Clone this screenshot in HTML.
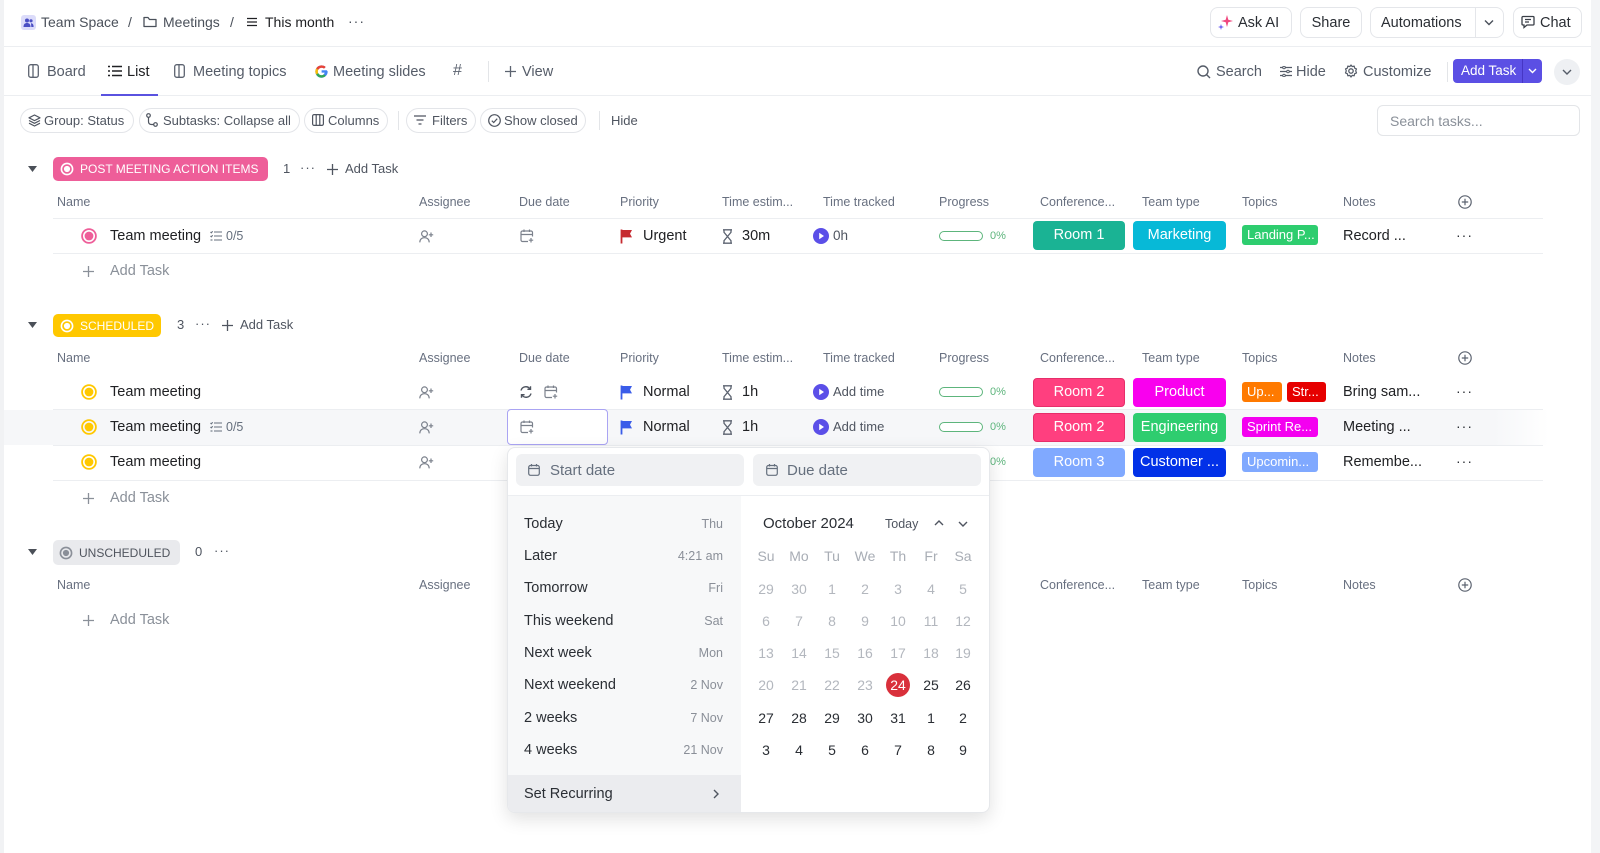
<!DOCTYPE html>
<html><head><meta charset="utf-8">
<style>
*{box-sizing:border-box;margin:0;padding:0}
body{width:1600px;height:853px;overflow:hidden;background:#fff;font-family:"Liberation Sans",Arial,sans-serif;color:#202124;position:relative}
.a{position:absolute}
.t{position:absolute;white-space:nowrap;line-height:20px;height:20px}
.h{font-size:12.5px;color:#687080}
.r{font-size:14.5px;color:#202124}
.nv{font-size:14.5px;color:#555c68}
.chip{position:absolute;border-radius:4px;color:#fff;font-size:14.5px;text-align:center;line-height:29px;height:29px;white-space:nowrap;overflow:hidden}
.tp{position:absolute;border-radius:3px;color:#fff;font-size:13px;line-height:20px;height:20px;padding-left:5px;white-space:nowrap;overflow:hidden}
.ln{position:absolute;height:1px;background:#eceef1}
.btn{position:absolute;border:1px solid #e4e6ea;border-radius:8px;background:#fff}
.fc{position:absolute;top:108px;height:25px;border:1px solid #e3e5e9;border-radius:13px}
.ft{font-size:13px;color:#4f5560}
.pb{position:absolute;width:44px;height:10px;border:1.5px solid #5db57c;border-radius:6px;background:#fff}
.pc{font-size:11px;color:#5db57c}
.li{font-size:14.5px;color:#2a2e34}
.lv{font-size:12.5px;color:#8a8f98;text-align:right;width:80px}
.cd{position:absolute;width:30px;text-align:center;font-size:14px;line-height:20px;height:20px}
.gy{color:#b3b7be}
.dk{color:#2a2e34}
</style></head><body>

<!-- frame strips -->
<div class="a" style="left:0;top:0;width:4px;height:853px;background:#f1f2f4"></div>
<div class="a" style="left:1591px;top:0;width:9px;height:853px;background:#f3f4f6"></div>
<div class="ln" style="left:4px;top:46px;width:1587px"></div>
<div class="ln" style="left:4px;top:95px;width:1587px"></div>

<!-- breadcrumb -->
<div class="a" style="left:21px;top:15px;width:15px;height:15px;border-radius:3px;background:#dcdcfa"></div>
<svg class="a" style="left:23px;top:17px" width="11" height="11" viewBox="0 0 11 11"><circle cx="4" cy="3.5" r="2" fill="#4b4fc4"/><circle cx="8" cy="3.8" r="1.6" fill="#4b4fc4"/><path d="M0.5 10c0-3 1.5-4 3.5-4s3.5 1 3.5 4z" fill="#4b4fc4"/><path d="M8 6.2c1.6 0 2.6 1 2.6 3.8H8.3" fill="#4b4fc4"/></svg>
<div class="t" style="left:41px;top:12px;font-size:14px;color:#4a505a">Team Space</div>
<div class="t" style="left:128px;top:12px;font-size:14px;color:#4a505a">/</div>
<svg class="a" style="left:143px;top:16px" width="14" height="12" viewBox="0 0 14 12"><path d="M1 2.5V10.5H13V3.5H6.5L5 1.5H1Z" fill="none" stroke="#4a505a" stroke-width="1.3" stroke-linejoin="round"/></svg>
<div class="t" style="left:163px;top:12px;font-size:14px;color:#4a505a">Meetings</div>
<div class="t" style="left:230px;top:12px;font-size:14px;color:#4a505a">/</div>
<svg class="a" style="left:247px;top:17px" width="10" height="10" viewBox="0 0 10 10"><path d="M0 1.5H10M0 5H10M0 8.5H10" stroke="#202124" stroke-width="1.3"/></svg>
<div class="t" style="left:265px;top:12px;font-size:14px;color:#202124">This month</div>
<div class="t" style="left:348px;top:11px;font-size:14px;color:#4a505a;letter-spacing:1px">···</div>

<!-- top right buttons -->
<div class="btn" style="left:1210px;top:7px;width:82px;height:31px"></div>
<svg class="a" style="left:1217px;top:14px" width="17" height="17" viewBox="0 0 17 17"><path d="M10 1L11.3 5.7 16 7 11.3 8.3 10 13 8.7 8.3 4 7 8.7 5.7Z" fill="#f0487f"/><path d="M4 10L4.7 12.3 7 13 4.7 13.7 4 16 3.3 13.7 1 13 3.3 12.3Z" fill="#6a5cf0"/></svg>
<div class="t" style="left:1238px;top:12.5px;font-size:14.5px;color:#2a2e34">Ask AI</div>
<div class="btn" style="left:1300px;top:7px;width:62px;height:31px"></div>
<div class="t" style="left:1300px;top:12.5px;width:62px;text-align:center;font-size:14.5px;color:#2a2e34">Share</div>
<div class="btn" style="left:1370px;top:7px;width:134px;height:31px"></div>
<div class="t" style="left:1381px;top:12.5px;font-size:14.5px;color:#2a2e34">Automations</div>
<div class="a" style="left:1475px;top:8px;width:1px;height:29px;background:#e4e6ea"></div>
<svg class="a" style="left:1484px;top:19px" width="10" height="7" viewBox="0 0 10 7"><path d="M1 1.5L5 5.5 9 1.5" fill="none" stroke="#4a505a" stroke-width="1.4"/></svg>
<div class="btn" style="left:1513px;top:7px;width:69px;height:31px"></div>
<svg class="a" style="left:1521px;top:15px" width="14" height="14" viewBox="0 0 14 14"><path d="M2 1.5H12a1 1 0 0 1 1 1V9a1 1 0 0 1-1 1H6L3 12.5V10H2a1 1 0 0 1-1-1V2.5a1 1 0 0 1 1-1Z" fill="none" stroke="#3a3f47" stroke-width="1.3"/><path d="M4 4.5H10M4 7H8" stroke="#3a3f47" stroke-width="1.2"/></svg>
<div class="t" style="left:1540px;top:12.5px;font-size:14.5px;color:#2a2e34">Chat</div>

<!-- tabs -->
<svg class="a" style="left:28px;top:64px" width="11" height="14" viewBox="0 0 11 14"><rect x="0.7" y="0.7" width="9.6" height="12.6" rx="2" fill="none" stroke="#5c6370" stroke-width="1.3"/><path d="M5 1V13" stroke="#5c6370" stroke-width="1.3"/></svg>
<div class="t nv" style="left:47px;top:61.5px">Board</div>
<svg class="a" style="left:108px;top:65px" width="14" height="12" viewBox="0 0 14 12"><path d="M0 1.5H2M0 6H2M0 10.5H2M4 1.5H14M4 6H14M4 10.5H14" stroke="#202124" stroke-width="1.5"/></svg>
<div class="t" style="left:127px;top:61.5px;font-size:14.5px;color:#202124">List</div>
<div class="a" style="left:101px;top:94px;width:57px;height:2px;background:#5a52e0"></div>
<svg class="a" style="left:174px;top:64px" width="11" height="14" viewBox="0 0 11 14"><rect x="0.7" y="0.7" width="9.6" height="12.6" rx="2" fill="none" stroke="#5c6370" stroke-width="1.3"/><path d="M5 1V13" stroke="#5c6370" stroke-width="1.3"/></svg>
<div class="t nv" style="left:193px;top:61.5px">Meeting topics</div>
<svg class="a" style="left:315px;top:65px" width="13" height="13" viewBox="0 0 13 13"><path d="M11.8 5.3H6.6V7.6H9.6C9.2 9.2 8 10.3 6.5 10.3A3.8 3.8 0 1 1 9 3.6L10.7 2A6.2 6.2 0 1 0 12.7 6.5Z" fill="#4285f4"/><path d="M1.2 3.4L3.2 4.9A3.8 3.8 0 0 1 9 3.6L10.7 2A6.2 6.2 0 0 0 1.2 3.4Z" fill="#ea4335"/><path d="M1.2 3.4A6.2 6.2 0 0 0 1.2 9.6L3.2 8.1A3.8 3.8 0 0 1 3.2 4.9Z" fill="#fbbc05"/><path d="M1.2 9.6A6.2 6.2 0 0 0 10.8 10.9L8.9 9.4A3.8 3.8 0 0 1 3.2 8.1Z" fill="#34a853"/></svg>
<div class="t nv" style="left:333px;top:61.5px">Meeting slides</div>
<div class="t" style="left:453px;top:61px;font-size:16px;color:#5c6370">#</div>
<div class="a" style="left:488px;top:61px;width:1px;height:21px;background:#e3e5e8"></div>
<svg class="a" style="left:505px;top:66px" width="11" height="11" viewBox="0 0 11 11"><path d="M5.5 0V11M0 5.5H11" stroke="#5c6370" stroke-width="1.3"/></svg>
<div class="t nv" style="left:522px;top:61.5px">View</div>

<svg class="a" style="left:1197px;top:65px" width="14" height="14" viewBox="0 0 14 14"><circle cx="6" cy="6" r="5" fill="none" stroke="#555c68" stroke-width="1.4"/><path d="M9.7 9.7L13 13" stroke="#555c68" stroke-width="1.4"/></svg>
<div class="t nv" style="left:1216px;top:61.5px">Search</div>
<svg class="a" style="left:1280px;top:66px" width="12" height="11" viewBox="0 0 12 11"><path d="M0 1.5H12M0 5.5H12M0 9.5H12" stroke="#555c68" stroke-width="1.2"/><circle cx="4" cy="1.5" r="1.3" fill="#fff" stroke="#555c68"/><circle cx="8" cy="5.5" r="1.3" fill="#fff" stroke="#555c68"/><circle cx="4" cy="9.5" r="1.3" fill="#fff" stroke="#555c68"/></svg>
<div class="t nv" style="left:1296px;top:61.5px">Hide</div>
<svg class="a" style="left:1344px;top:64px" width="14" height="14" viewBox="0 0 14 14"><circle cx="7" cy="7" r="2.2" fill="none" stroke="#555c68" stroke-width="1.3"/><path d="M7 1L8.2 2.6 10.2 2.1 10.6 4.1 12.5 4.9 11.7 6.8 12.5 8.9 10.6 9.8 10.2 11.8 8.2 11.4 7 13 5.8 11.4 3.8 11.8 3.4 9.8 1.5 8.9 2.3 6.8 1.5 4.9 3.4 4.1 3.8 2.1 5.8 2.6Z" fill="none" stroke="#555c68" stroke-width="1.2" stroke-linejoin="round"/></svg>
<div class="t nv" style="left:1363px;top:61.5px">Customize</div>
<div class="a" style="left:1447px;top:62px;width:1px;height:20px;background:#e3e5e8"></div>
<div class="a" style="left:1453px;top:59px;width:89px;height:24px;border-radius:4px;background:#5b4fe4"></div>
<div class="t" style="left:1461px;top:61px;font-size:13.5px;color:#fff">Add Task</div>
<div class="a" style="left:1522px;top:59px;width:1px;height:24px;background:#4636c4"></div>
<svg class="a" style="left:1528px;top:68px" width="9" height="6" viewBox="0 0 9 6"><path d="M1 1L4.5 4.5 8 1" fill="none" stroke="#fff" stroke-width="1.4"/></svg>
<div class="a" style="left:1554px;top:59px;width:26px;height:26px;border-radius:13px;background:#eef0f3"></div>
<svg class="a" style="left:1562px;top:69px" width="10" height="6" viewBox="0 0 10 6"><path d="M1 1L5 5 9 1" fill="none" stroke="#555c68" stroke-width="1.4"/></svg>

<!-- filter row -->
<div class="fc" style="left:20px;width:114px"></div>
<svg class="a" style="left:28px;top:114px" width="13" height="13" viewBox="0 0 13 13"><path d="M6.5 1L12 3.8 6.5 6.6 1 3.8Z" fill="none" stroke="#4f5560" stroke-width="1.2" stroke-linejoin="round"/><path d="M1 6.5L6.5 9.3 12 6.5M1 9.2L6.5 12 12 9.2" fill="none" stroke="#4f5560" stroke-width="1.2" stroke-linejoin="round"/></svg>
<div class="t ft" style="left:44px;top:110.5px">Group: Status</div>
<div class="fc" style="left:139px;width:161px"></div>
<svg class="a" style="left:146px;top:113px" width="12" height="14" viewBox="0 0 12 14"><circle cx="2.5" cy="2.5" r="1.8" fill="none" stroke="#4f5560" stroke-width="1.2"/><circle cx="9.5" cy="11.5" r="1.8" fill="none" stroke="#4f5560" stroke-width="1.2"/><path d="M2.5 4.3V8.5Q2.5 11.5 5.5 11.5H7.7" fill="none" stroke="#4f5560" stroke-width="1.2"/></svg>
<div class="t ft" style="left:163px;top:110.5px">Subtasks: Collapse all</div>
<div class="fc" style="left:304px;width:84px"></div>
<svg class="a" style="left:312px;top:114px" width="12" height="12" viewBox="0 0 12 12"><rect x="0.6" y="0.6" width="10.8" height="10.8" rx="1.5" fill="none" stroke="#4f5560" stroke-width="1.2"/><path d="M4.2 1V11M7.8 1V11" stroke="#4f5560" stroke-width="1.2"/></svg>
<div class="t ft" style="left:328px;top:110.5px">Columns</div>
<div class="a" style="left:398px;top:111px;width:1px;height:19px;background:#e3e5e8"></div>
<div class="fc" style="left:406px;width:70px"></div>
<svg class="a" style="left:414px;top:115px" width="12" height="10" viewBox="0 0 12 10"><path d="M0 1H12M2.5 5H9.5M4.5 9H7.5" stroke="#4f5560" stroke-width="1.3"/></svg>
<div class="t ft" style="left:432px;top:110.5px">Filters</div>
<div class="fc" style="left:480px;width:106px"></div>
<svg class="a" style="left:488px;top:114px" width="13" height="13" viewBox="0 0 13 13"><circle cx="6.5" cy="6.5" r="5.8" fill="none" stroke="#4f5560" stroke-width="1.2"/><path d="M3.8 6.7L5.7 8.5 9.2 4.7" fill="none" stroke="#4f5560" stroke-width="1.2"/></svg>
<div class="t ft" style="left:504px;top:110.5px">Show closed</div>
<div class="a" style="left:599px;top:111px;width:1px;height:19px;background:#e3e5e8"></div>
<div class="t ft" style="left:611px;top:110.5px">Hide</div>
<div class="a" style="left:1377px;top:105px;width:203px;height:31px;border:1px solid #e3e5e8;border-radius:6px"></div>
<div class="t" style="left:1390px;top:110.5px;font-size:14px;color:#8a9099">Search tasks...</div>

<!-- ================= GROUP 1 ================= -->
<svg class="a" style="left:28px;top:166px" width="9" height="6" viewBox="0 0 9 6"><path d="M0 0H9L4.5 6Z" fill="#4b5058"/></svg>
<div class="a" style="left:53px;top:157px;width:215px;height:24px;border-radius:5px;background:#ee5e99"></div>
<svg class="a" style="left:60px;top:162px" width="14" height="14" viewBox="0 0 14 14"><circle cx="7" cy="7" r="5.6" fill="none" stroke="#fff" stroke-width="1.6"/><circle cx="7" cy="7" r="3.1" fill="#fff"/></svg>
<div class="t" style="left:80px;top:159px;font-size:12px;color:#fff">POST MEETING ACTION ITEMS</div>
<div class="t" style="left:283px;top:159px;font-size:13px;color:#4f5560">1</div>
<div class="t" style="left:300px;top:158px;font-size:13px;color:#4f5560;letter-spacing:1px">···</div>
<svg class="a" style="left:327px;top:164px" width="11" height="11" viewBox="0 0 11 11"><path d="M5.5 0V11M0 5.5H11" stroke="#4f5560" stroke-width="1.3"/></svg>
<div class="t" style="left:345px;top:159px;font-size:13px;color:#4f5560">Add Task</div>

<!-- col header 1 -->
<div class="t h" style="left:57px;top:192px">Name</div>
<div class="t h" style="left:419px;top:192px">Assignee</div>
<div class="t h" style="left:519px;top:192px">Due date</div>
<div class="t h" style="left:620px;top:192px">Priority</div>
<div class="t h" style="left:722px;top:192px">Time estim...</div>
<div class="t h" style="left:823px;top:192px">Time tracked</div>
<div class="t h" style="left:939px;top:192px">Progress</div>
<div class="t h" style="left:1040px;top:192px">Conference...</div>
<div class="t h" style="left:1142px;top:192px">Team type</div>
<div class="t h" style="left:1242px;top:192px">Topics</div>
<div class="t h" style="left:1343px;top:192px">Notes</div>
<svg class="a" style="left:1458px;top:195px" width="14" height="14" viewBox="0 0 14 14"><circle cx="7" cy="7" r="6.2" fill="none" stroke="#5c6370" stroke-width="1.2"/><path d="M7 3.8V10.2M3.8 7H10.2" stroke="#5c6370" stroke-width="1.2"/></svg>
<div class="ln" style="left:53px;top:218px;width:1490px"></div>

<!-- row 1 -->
<svg class="a" style="left:81px;top:228px" width="16" height="16" viewBox="0 0 16 16"><circle cx="8" cy="8" r="6.9" fill="none" stroke="#ee5e99" stroke-width="1.8"/><circle cx="8" cy="8" r="4.4" fill="#ee5e99"/></svg>
<div class="t r" style="left:110px;top:226px">Team meeting</div>
<svg class="a" style="left:210px;top:231px" width="12" height="10" viewBox="0 0 12 10"><path d="M4 1H12M4 5H12M4 9H12M0.5 1L1.3 1.8 2.7 0.3M0.5 5L1.3 5.8 2.7 4.3" fill="none" stroke="#656f7d" stroke-width="1.1"/><path d="M0.5 9H2.5" stroke="#656f7d" stroke-width="1.1"/></svg>
<div class="t" style="left:226px;top:226px;font-size:12.5px;color:#656f7d">0/5</div>
<svg class="a" style="left:419px;top:230px" width="15" height="13" viewBox="0 0 15 13"><circle cx="5.5" cy="3.8" r="2.9" fill="none" stroke="#7b818c" stroke-width="1.2"/><path d="M0.8 12.4C0.8 9 3 7.7 5.5 7.7S10.2 9 10.2 12.4" fill="none" stroke="#7b818c" stroke-width="1.2"/><path d="M12 2.5V7M9.8 4.8H14.2" stroke="#7b818c" stroke-width="1.2"/></svg>
<svg class="a" style="left:520px;top:229px" width="14" height="14" viewBox="0 0 14 14"><path d="M8 12.5H2.5a1.5 1.5 0 0 1-1.5-1.5V3.5A1.5 1.5 0 0 1 2.5 2H11a1.5 1.5 0 0 1 1.5 1.5V7.5M1 5.5H12.5M4 0.5V3M9.5 0.5V3M11 9V13.5M8.8 11.2H13.2" fill="none" stroke="#7b818c" stroke-width="1.2"/></svg>
<svg class="a" style="left:620px;top:229px" width="13" height="15" viewBox="0 0 13 15"><path d="M1.5 0.5V14.5" stroke="#c62a2f" stroke-width="1.8"/><path d="M1.5 1H12L10 4.7 12 8.4H1.5Z" fill="#c62a2f"/></svg>
<div class="t r" style="left:643px;top:226px">Urgent</div>
<svg class="a" style="left:722px;top:229px" width="11" height="15" viewBox="0 0 11 15"><path d="M1 0.8H10M1 14.2H10M2 0.8V3.3L5.5 7.5 2 11.7V14.2M9 0.8V3.3L5.5 7.5 9 11.7V14.2" fill="none" stroke="#5c6370" stroke-width="1.3"/></svg>
<div class="t r" style="left:742px;top:226px">30m</div>
<svg class="a" style="left:813px;top:228px" width="16" height="16" viewBox="0 0 16 16"><circle cx="8" cy="8" r="8" fill="#5b4fe8"/><path d="M6.2 4.8L11 8 6.2 11.2Z" fill="#fff"/></svg>
<div class="t" style="left:833px;top:226px;font-size:13.5px;color:#4f5560">0h</div>
<div class="pb" style="left:939px;top:230.5px"></div>
<div class="t pc" style="left:990px;top:226px">0%</div>
<div class="chip" style="left:1033px;top:221px;width:92px;background:#1ab394">Room 1</div>
<div class="chip" style="left:1133px;top:221px;width:93px;background:#07b9d7">Marketing</div>
<div class="tp" style="left:1242px;top:225px;width:76px;background:#2ecd6f">Landing P...</div>
<div class="t r" style="left:1343px;top:226px">Record ...</div>
<div class="t" style="left:1456px;top:225px;font-size:14px;color:#2a2e34;letter-spacing:1px">···</div>
<div class="ln" style="left:53px;top:253px;width:1490px"></div>

<svg class="a" style="left:83px;top:266px" width="11" height="11" viewBox="0 0 11 11"><path d="M5.5 0V11M0 5.5H11" stroke="#8a9099" stroke-width="1.3"/></svg>
<div class="t" style="left:110px;top:261px;font-size:14.5px;color:#8a9099">Add Task</div>

<!-- ================= GROUP 2 ================= -->
<svg class="a" style="left:28px;top:322px" width="9" height="6" viewBox="0 0 9 6"><path d="M0 0H9L4.5 6Z" fill="#4b5058"/></svg>
<div class="a" style="left:53px;top:314px;width:108px;height:23px;border-radius:5px;background:#ffc800"></div>
<svg class="a" style="left:60px;top:318.5px" width="14" height="14" viewBox="0 0 14 14"><circle cx="7" cy="7" r="5.6" fill="none" stroke="#fff" stroke-width="1.6"/><circle cx="7" cy="7" r="3.1" fill="#fff"/></svg>
<div class="t" style="left:80px;top:315.5px;font-size:12px;color:#fff">SCHEDULED</div>
<div class="t" style="left:177px;top:315px;font-size:13px;color:#4f5560">3</div>
<div class="t" style="left:195px;top:314px;font-size:13px;color:#4f5560;letter-spacing:1px">···</div>
<svg class="a" style="left:222px;top:320px" width="11" height="11" viewBox="0 0 11 11"><path d="M5.5 0V11M0 5.5H11" stroke="#4f5560" stroke-width="1.3"/></svg>
<div class="t" style="left:240px;top:315px;font-size:13px;color:#4f5560">Add Task</div>

<div class="t h" style="left:57px;top:348px">Name</div>
<div class="t h" style="left:419px;top:348px">Assignee</div>
<div class="t h" style="left:519px;top:348px">Due date</div>
<div class="t h" style="left:620px;top:348px">Priority</div>
<div class="t h" style="left:722px;top:348px">Time estim...</div>
<div class="t h" style="left:823px;top:348px">Time tracked</div>
<div class="t h" style="left:939px;top:348px">Progress</div>
<div class="t h" style="left:1040px;top:348px">Conference...</div>
<div class="t h" style="left:1142px;top:348px">Team type</div>
<div class="t h" style="left:1242px;top:348px">Topics</div>
<div class="t h" style="left:1343px;top:348px">Notes</div>
<svg class="a" style="left:1458px;top:351px" width="14" height="14" viewBox="0 0 14 14"><circle cx="7" cy="7" r="6.2" fill="none" stroke="#5c6370" stroke-width="1.2"/><path d="M7 3.8V10.2M3.8 7H10.2" stroke="#5c6370" stroke-width="1.2"/></svg>

<!-- row a -->
<svg class="a" style="left:81px;top:384px" width="16" height="16" viewBox="0 0 16 16"><circle cx="8" cy="8" r="6.9" fill="none" stroke="#ffc800" stroke-width="1.8"/><circle cx="8" cy="8" r="4.4" fill="#ffc800"/></svg>
<div class="t r" style="left:110px;top:382px">Team meeting</div>
<svg class="a" style="left:419px;top:386px" width="15" height="13" viewBox="0 0 15 13"><circle cx="5.5" cy="3.8" r="2.9" fill="none" stroke="#7b818c" stroke-width="1.2"/><path d="M0.8 12.4C0.8 9 3 7.7 5.5 7.7S10.2 9 10.2 12.4" fill="none" stroke="#7b818c" stroke-width="1.2"/><path d="M12 2.5V7M9.8 4.8H14.2" stroke="#7b818c" stroke-width="1.2"/></svg>
<svg class="a" style="left:519px;top:385px" width="14" height="14" viewBox="0 0 14 14"><path d="M2 5.5A5 5 0 0 1 11 4M12 8.5A5 5 0 0 1 3 10" fill="none" stroke="#4f5560" stroke-width="1.4"/><path d="M11.5 1.2V4.3H8.4M2.5 12.8V9.7H5.6" fill="none" stroke="#4f5560" stroke-width="1.4"/></svg>
<svg class="a" style="left:544px;top:385px" width="14" height="14" viewBox="0 0 14 14"><path d="M8 12.5H2.5a1.5 1.5 0 0 1-1.5-1.5V3.5A1.5 1.5 0 0 1 2.5 2H11a1.5 1.5 0 0 1 1.5 1.5V7.5M1 5.5H12.5M4 0.5V3M9.5 0.5V3M11 9V13.5M8.8 11.2H13.2" fill="none" stroke="#7b818c" stroke-width="1.2"/></svg>
<svg class="a" style="left:620px;top:385px" width="13" height="15" viewBox="0 0 13 15"><path d="M1.5 0.5V14.5" stroke="#3a5ce9" stroke-width="1.8"/><path d="M1.5 1H12L10 4.7 12 8.4H1.5Z" fill="#3a5ce9"/></svg>
<div class="t r" style="left:643px;top:382px">Normal</div>
<svg class="a" style="left:722px;top:385px" width="11" height="15" viewBox="0 0 11 15"><path d="M1 0.8H10M1 14.2H10M2 0.8V3.3L5.5 7.5 2 11.7V14.2M9 0.8V3.3L5.5 7.5 9 11.7V14.2" fill="none" stroke="#5c6370" stroke-width="1.3"/></svg>
<div class="t r" style="left:742px;top:382px">1h</div>
<svg class="a" style="left:813px;top:384px" width="16" height="16" viewBox="0 0 16 16"><circle cx="8" cy="8" r="8" fill="#5b4fe8"/><path d="M6.2 4.8L11 8 6.2 11.2Z" fill="#fff"/></svg>
<div class="t" style="left:833px;top:382px;font-size:13px;color:#4f5560">Add time</div>
<div class="pb" style="left:939px;top:386.5px"></div>
<div class="t pc" style="left:990px;top:382px">0%</div>
<div class="chip" style="left:1033px;top:378px;width:92px;background:#ff3f7f;border:1px solid #e62e6a;line-height:27px">Room 2</div>
<div class="chip" style="left:1133px;top:378px;width:93px;background:#f900ee">Product</div>
<div class="tp" style="left:1242px;top:382px;width:40px;background:#ff7a00">Up...</div>
<div class="tp" style="left:1287px;top:382px;width:39px;background:#e60000">Str...</div>
<div class="t r" style="left:1343px;top:382px">Bring sam...</div>
<div class="t" style="left:1456px;top:381px;font-size:14px;color:#2a2e34;letter-spacing:1px">···</div>
<div class="ln" style="left:53px;top:409px;width:1490px"></div>

<!-- row b (highlight) -->
<div class="a" style="left:4px;top:410px;width:1545px;height:35px;background:linear-gradient(to right,#f6f7f9 0,#f6f7f9 1490px,#ffffff 1545px)"></div>
<svg class="a" style="left:81px;top:419px" width="16" height="16" viewBox="0 0 16 16"><circle cx="8" cy="8" r="6.9" fill="none" stroke="#ffc800" stroke-width="1.8"/><circle cx="8" cy="8" r="4.4" fill="#ffc800"/></svg>
<div class="t r" style="left:110px;top:417px">Team meeting</div>
<svg class="a" style="left:210px;top:422px" width="12" height="10" viewBox="0 0 12 10"><path d="M4 1H12M4 5H12M4 9H12M0.5 1L1.3 1.8 2.7 0.3M0.5 5L1.3 5.8 2.7 4.3" fill="none" stroke="#656f7d" stroke-width="1.1"/><path d="M0.5 9H2.5" stroke="#656f7d" stroke-width="1.1"/></svg>
<div class="t" style="left:226px;top:417px;font-size:12.5px;color:#656f7d">0/5</div>
<svg class="a" style="left:419px;top:421px" width="15" height="13" viewBox="0 0 15 13"><circle cx="5.5" cy="3.8" r="2.9" fill="none" stroke="#7b818c" stroke-width="1.2"/><path d="M0.8 12.4C0.8 9 3 7.7 5.5 7.7S10.2 9 10.2 12.4" fill="none" stroke="#7b818c" stroke-width="1.2"/><path d="M12 2.5V7M9.8 4.8H14.2" stroke="#7b818c" stroke-width="1.2"/></svg>
<div class="a" style="left:507px;top:409px;width:101px;height:36px;border:1px solid #aaa4f3;border-radius:4px;background:#fff"></div>
<svg class="a" style="left:520px;top:420px" width="14" height="14" viewBox="0 0 14 14"><path d="M8 12.5H2.5a1.5 1.5 0 0 1-1.5-1.5V3.5A1.5 1.5 0 0 1 2.5 2H11a1.5 1.5 0 0 1 1.5 1.5V7.5M1 5.5H12.5M4 0.5V3M9.5 0.5V3M11 9V13.5M8.8 11.2H13.2" fill="none" stroke="#7b818c" stroke-width="1.2"/></svg>
<svg class="a" style="left:620px;top:420px" width="13" height="15" viewBox="0 0 13 15"><path d="M1.5 0.5V14.5" stroke="#3a5ce9" stroke-width="1.8"/><path d="M1.5 1H12L10 4.7 12 8.4H1.5Z" fill="#3a5ce9"/></svg>
<div class="t r" style="left:643px;top:417px">Normal</div>
<svg class="a" style="left:722px;top:420px" width="11" height="15" viewBox="0 0 11 15"><path d="M1 0.8H10M1 14.2H10M2 0.8V3.3L5.5 7.5 2 11.7V14.2M9 0.8V3.3L5.5 7.5 9 11.7V14.2" fill="none" stroke="#5c6370" stroke-width="1.3"/></svg>
<div class="t r" style="left:742px;top:417px">1h</div>
<svg class="a" style="left:813px;top:419px" width="16" height="16" viewBox="0 0 16 16"><circle cx="8" cy="8" r="8" fill="#5b4fe8"/><path d="M6.2 4.8L11 8 6.2 11.2Z" fill="#fff"/></svg>
<div class="t" style="left:833px;top:417px;font-size:13px;color:#4f5560">Add time</div>
<div class="pb" style="left:939px;top:421.5px"></div>
<div class="t pc" style="left:990px;top:417px">0%</div>
<div class="chip" style="left:1033px;top:413px;width:92px;background:#ff3f7f;border:1px solid #e62e6a;line-height:27px">Room 2</div>
<div class="chip" style="left:1133px;top:413px;width:93px;background:#2ecd6f">Engineering</div>
<div class="tp" style="left:1242px;top:417px;width:76px;background:#f400f0">Sprint Re...</div>
<div class="t r" style="left:1343px;top:417px">Meeting ...</div>
<div class="t" style="left:1456px;top:416px;font-size:14px;color:#2a2e34;letter-spacing:1px">···</div>
<div class="ln" style="left:53px;top:445px;width:1490px"></div>

<!-- row c -->
<svg class="a" style="left:81px;top:454px" width="16" height="16" viewBox="0 0 16 16"><circle cx="8" cy="8" r="6.9" fill="none" stroke="#ffc800" stroke-width="1.8"/><circle cx="8" cy="8" r="4.4" fill="#ffc800"/></svg>
<div class="t r" style="left:110px;top:452px">Team meeting</div>
<svg class="a" style="left:419px;top:456px" width="15" height="13" viewBox="0 0 15 13"><circle cx="5.5" cy="3.8" r="2.9" fill="none" stroke="#7b818c" stroke-width="1.2"/><path d="M0.8 12.4C0.8 9 3 7.7 5.5 7.7S10.2 9 10.2 12.4" fill="none" stroke="#7b818c" stroke-width="1.2"/><path d="M12 2.5V7M9.8 4.8H14.2" stroke="#7b818c" stroke-width="1.2"/></svg>
<div class="t pc" style="left:990px;top:452px">0%</div>
<div class="chip" style="left:1033px;top:448px;width:92px;background:#80a9ff">Room 3</div>
<div class="chip" style="left:1133px;top:448px;width:93px;background:#0231e8">Customer ...</div>
<div class="tp" style="left:1242px;top:452px;width:76px;background:#80a9ff">Upcomin...</div>
<div class="t r" style="left:1343px;top:452px">Remembe...</div>
<div class="t" style="left:1456px;top:451px;font-size:14px;color:#2a2e34;letter-spacing:1px">···</div>
<div class="ln" style="left:53px;top:480px;width:1490px"></div>

<svg class="a" style="left:83px;top:493px" width="11" height="11" viewBox="0 0 11 11"><path d="M5.5 0V11M0 5.5H11" stroke="#8a9099" stroke-width="1.3"/></svg>
<div class="t" style="left:110px;top:488px;font-size:14.5px;color:#8a9099">Add Task</div>

<!-- ================= GROUP 3 ================= -->
<svg class="a" style="left:28px;top:549px" width="9" height="6" viewBox="0 0 9 6"><path d="M0 0H9L4.5 6Z" fill="#4b5058"/></svg>
<div class="a" style="left:53px;top:540px;width:127px;height:25px;border-radius:5px;background:#e9eaed"></div>
<svg class="a" style="left:59px;top:545.5px" width="14" height="14" viewBox="0 0 14 14"><circle cx="7" cy="7" r="5.6" fill="none" stroke="#8a8f98" stroke-width="1.6"/><circle cx="7" cy="7" r="3.1" fill="#8a8f98"/></svg>
<div class="t" style="left:79px;top:542.5px;font-size:12px;color:#50555e">UNSCHEDULED</div>
<div class="t" style="left:195px;top:542px;font-size:13px;color:#4f5560">0</div>
<div class="t" style="left:214px;top:541px;font-size:13px;color:#4f5560;letter-spacing:1px">···</div>

<div class="t h" style="left:57px;top:575px">Name</div>
<div class="t h" style="left:419px;top:575px">Assignee</div>
<div class="t h" style="left:1040px;top:575px">Conference...</div>
<div class="t h" style="left:1142px;top:575px">Team type</div>
<div class="t h" style="left:1242px;top:575px">Topics</div>
<div class="t h" style="left:1343px;top:575px">Notes</div>
<svg class="a" style="left:1458px;top:578px" width="14" height="14" viewBox="0 0 14 14"><circle cx="7" cy="7" r="6.2" fill="none" stroke="#5c6370" stroke-width="1.2"/><path d="M7 3.8V10.2M3.8 7H10.2" stroke="#5c6370" stroke-width="1.2"/></svg>

<svg class="a" style="left:83px;top:615px" width="11" height="11" viewBox="0 0 11 11"><path d="M5.5 0V11M0 5.5H11" stroke="#8a9099" stroke-width="1.3"/></svg>
<div class="t" style="left:110px;top:610px;font-size:14.5px;color:#8a9099">Add Task</div>

<!-- ================= POPUP ================= -->
<div class="a" style="left:507px;top:447px;width:483px;height:366px;background:#fff;border:1px solid #e6e8eb;border-radius:8px;box-shadow:0 6px 18px rgba(0,0,0,0.12);overflow:hidden">
  <div class="a" style="left:0;top:47px;width:483px;height:1px;background:#eceef1"></div>
  <div class="a" style="left:0;top:48px;width:233px;height:318px;background:#f7f8f9"></div>
  <div class="a" style="left:0;top:327px;width:233px;height:39px;background:#ebecef"></div>
</div>
<div class="a" style="left:516px;top:454px;width:228px;height:32px;border-radius:6px;background:#f0f1f3"></div>
<svg class="a" style="left:528px;top:464px" width="12" height="12" viewBox="0 0 12 12"><rect x="0.7" y="1.5" width="10.6" height="9.8" rx="1.8" fill="none" stroke="#656f7d" stroke-width="1.2"/><path d="M1 4.5H11M3.5 0V2.5M8.5 0V2.5" stroke="#656f7d" stroke-width="1.2"/></svg>
<div class="t" style="left:550px;top:461px;font-size:15px;color:#656f7d">Start date</div>
<div class="a" style="left:753px;top:454px;width:228px;height:32px;border-radius:6px;background:#f0f1f3"></div>
<svg class="a" style="left:766px;top:464px" width="12" height="12" viewBox="0 0 12 12"><rect x="0.7" y="1.5" width="10.6" height="9.8" rx="1.8" fill="none" stroke="#656f7d" stroke-width="1.2"/><path d="M1 4.5H11M3.5 0V2.5M8.5 0V2.5" stroke="#656f7d" stroke-width="1.2"/></svg>
<div class="t" style="left:787px;top:461px;font-size:15px;color:#656f7d">Due date</div>

<div class="t li" style="left:524px;top:514px">Today</div><div class="t lv" style="left:643px;top:514px">Thu</div>
<div class="t li" style="left:524px;top:546px">Later</div><div class="t lv" style="left:643px;top:546px">4:21 am</div>
<div class="t li" style="left:524px;top:578px">Tomorrow</div><div class="t lv" style="left:643px;top:578px">Fri</div>
<div class="t li" style="left:524px;top:611px">This weekend</div><div class="t lv" style="left:643px;top:611px">Sat</div>
<div class="t li" style="left:524px;top:643px">Next week</div><div class="t lv" style="left:643px;top:643px">Mon</div>
<div class="t li" style="left:524px;top:675px">Next weekend</div><div class="t lv" style="left:643px;top:675px">2 Nov</div>
<div class="t li" style="left:524px;top:708px">2 weeks</div><div class="t lv" style="left:643px;top:708px">7 Nov</div>
<div class="t li" style="left:524px;top:740px">4 weeks</div><div class="t lv" style="left:643px;top:740px">21 Nov</div>
<div class="t li" style="left:524px;top:784px">Set Recurring</div>
<svg class="a" style="left:713px;top:789px" width="6" height="10" viewBox="0 0 6 10"><path d="M1 1L5 5 1 9" fill="none" stroke="#4f5560" stroke-width="1.4"/></svg>

<div class="t" style="left:763px;top:514px;font-size:15px;color:#2a2e34">October 2024</div>
<div class="t" style="left:885px;top:514px;font-size:12.5px;color:#4f5560">Today</div>
<svg class="a" style="left:934px;top:520px" width="10" height="6" viewBox="0 0 10 6"><path d="M1 5L5 1 9 5" fill="none" stroke="#4f5560" stroke-width="1.4"/></svg>
<svg class="a" style="left:958px;top:521px" width="10" height="6" viewBox="0 0 10 6"><path d="M1 1L5 5 9 1" fill="none" stroke="#4f5560" stroke-width="1.4"/></svg>

<!-- weekdays -->
<div class="cd" style="left:751px;top:546px;color:#a8adb5">Su</div>
<div class="cd" style="left:784px;top:546px;color:#a8adb5">Mo</div>
<div class="cd" style="left:817px;top:546px;color:#a8adb5">Tu</div>
<div class="cd" style="left:850px;top:546px;color:#a8adb5">We</div>
<div class="cd" style="left:883px;top:546px;color:#a8adb5">Th</div>
<div class="cd" style="left:916px;top:546px;color:#a8adb5">Fr</div>
<div class="cd" style="left:948px;top:546px;color:#a8adb5">Sa</div>
<!-- row 1 -->
<div class="cd gy" style="left:751px;top:579px">29</div><div class="cd gy" style="left:784px;top:579px">30</div><div class="cd gy" style="left:817px;top:579px">1</div><div class="cd gy" style="left:850px;top:579px">2</div><div class="cd gy" style="left:883px;top:579px">3</div><div class="cd gy" style="left:916px;top:579px">4</div><div class="cd gy" style="left:948px;top:579px">5</div>
<div class="cd gy" style="left:751px;top:611px">6</div><div class="cd gy" style="left:784px;top:611px">7</div><div class="cd gy" style="left:817px;top:611px">8</div><div class="cd gy" style="left:850px;top:611px">9</div><div class="cd gy" style="left:883px;top:611px">10</div><div class="cd gy" style="left:916px;top:611px">11</div><div class="cd gy" style="left:948px;top:611px">12</div>
<div class="cd gy" style="left:751px;top:643px">13</div><div class="cd gy" style="left:784px;top:643px">14</div><div class="cd gy" style="left:817px;top:643px">15</div><div class="cd gy" style="left:850px;top:643px">16</div><div class="cd gy" style="left:883px;top:643px">17</div><div class="cd gy" style="left:916px;top:643px">18</div><div class="cd gy" style="left:948px;top:643px">19</div>
<div class="a" style="left:886px;top:673px;width:24px;height:24px;border-radius:12px;background:#d9303b"></div>
<div class="cd gy" style="left:751px;top:675px">20</div><div class="cd gy" style="left:784px;top:675px">21</div><div class="cd gy" style="left:817px;top:675px">22</div><div class="cd gy" style="left:850px;top:675px">23</div><div class="cd" style="left:883px;top:675px;color:#fff">24</div><div class="cd dk" style="left:916px;top:675px">25</div><div class="cd dk" style="left:948px;top:675px">26</div>
<div class="cd dk" style="left:751px;top:708px">27</div><div class="cd dk" style="left:784px;top:708px">28</div><div class="cd dk" style="left:817px;top:708px">29</div><div class="cd dk" style="left:850px;top:708px">30</div><div class="cd dk" style="left:883px;top:708px">31</div><div class="cd dk" style="left:916px;top:708px">1</div><div class="cd dk" style="left:948px;top:708px">2</div>
<div class="cd dk" style="left:751px;top:740px">3</div><div class="cd dk" style="left:784px;top:740px">4</div><div class="cd dk" style="left:817px;top:740px">5</div><div class="cd dk" style="left:850px;top:740px">6</div><div class="cd dk" style="left:883px;top:740px">7</div><div class="cd dk" style="left:916px;top:740px">8</div><div class="cd dk" style="left:948px;top:740px">9</div>

</body></html>
